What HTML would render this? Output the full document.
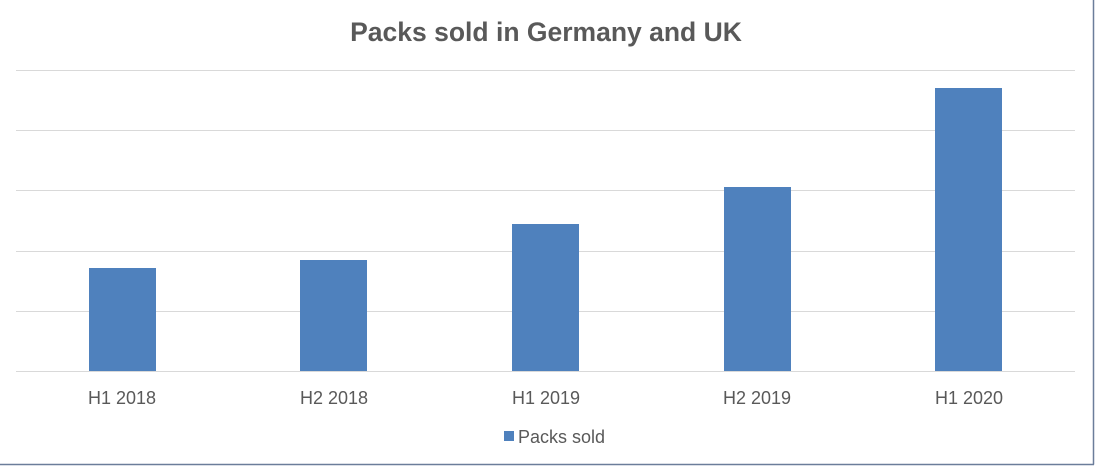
<!DOCTYPE html>
<html><head><style>body{margin:0;background:#fff}</style></head><body>
<svg width="1100" height="468" xmlns="http://www.w3.org/2000/svg" font-family="'Liberation Sans', sans-serif">
<rect width="1100" height="468" fill="#fff"/>
<line x1="1093.5" y1="0" x2="1093.5" y2="464.5" stroke="#6b7d9a" stroke-width="1.5"/>
<line x1="0" y1="464.5" x2="1094" y2="464.5" stroke="#6b7d9a" stroke-width="1.5"/>
<text x="546" y="41" text-anchor="middle" font-size="26.5" font-weight="bold" fill="#595959">Packs sold in Germany and UK</text>
<g stroke="#d9d9d9" stroke-width="1">
<line x1="16" y1="70.5" x2="1075" y2="70.5"/>
<line x1="16" y1="130.5" x2="1075" y2="130.5"/>
<line x1="16" y1="190.5" x2="1075" y2="190.5"/>
<line x1="16" y1="251.5" x2="1075" y2="251.5"/>
<line x1="16" y1="311.5" x2="1075" y2="311.5"/>
<line x1="16" y1="371.5" x2="1075" y2="371.5"/>
</g>
<g fill="#4f81bd">
<rect x="89" y="268" width="67" height="103"/>
<rect x="300" y="260" width="67" height="111"/>
<rect x="512" y="224" width="67" height="147"/>
<rect x="724" y="187" width="67" height="184"/>
<rect x="935" y="88" width="67" height="283"/>
</g>
<g font-size="18" fill="#595959" text-anchor="middle">
<text x="122" y="404">H1 2018</text>
<text x="334" y="404">H2 2018</text>
<text x="546" y="404">H1 2019</text>
<text x="757" y="404">H2 2019</text>
<text x="969" y="404">H1 2020</text>
</g>
<rect x="504" y="431" width="10" height="10" fill="#4f81bd"/>
<text x="518" y="443" font-size="18" fill="#595959">Packs sold</text>
</svg>
</body></html>
